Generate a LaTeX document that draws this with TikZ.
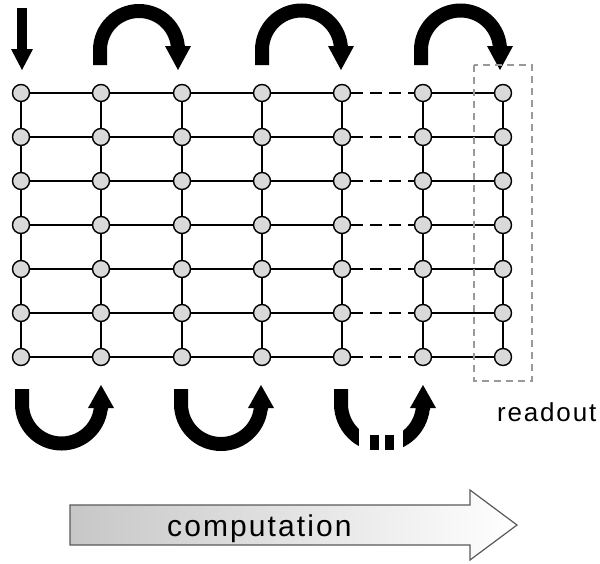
\documentclass[tikz,border=0pt]{standalone}
\usepackage{fontspec}
\setmainfont{Liberation Sans}
\newfontfamily\trackfont[LetterSpace=7]{Liberation Sans}
\begin{document}
\begin{tikzpicture}[x=1pt,y=-1pt,
  dot/.style={circle,draw=black,fill=black!15,line width=1.4pt,minimum size=17pt,inner sep=0pt},
  link/.style={line width=1.3pt},
  gaplink/.style={link,dash pattern=on 12pt off 7pt},
  bigarr/.style={line width=14pt},
  readbox/.style={draw=black!40,line width=1.3pt,dash pattern=on 7pt off 5pt},
  lbl/.style={inner sep=0pt,anchor=base west}]
\useasboundingbox (0,0) rectangle (600,563);
% grid nodes
\foreach \x [count=\i] in {21,101,182,262,342,423,503}
  \foreach \y [count=\j] in {93,137,181,225,269,313,357}
    \node[dot] (n\i-\j) at (\x,\y) {};
% horizontal links
\foreach \j in {1,...,7} {
  \foreach \i/\k in {1/2,2/3,3/4,4/5,6/7}
    \draw[link] (n\i-\j) -- (n\k-\j);
  \draw[gaplink] (n5-\j) -- (n6-\j);
}
% vertical links
\foreach \i in {1,...,7}
  \foreach \j/\k in {1/2,2/3,3/4,4/5,5/6,6/7}
    \draw[link] (n\i-\j) -- (n\i-\k);
% input arrow
\fill (17,8) rectangle (27,50);
\fill (11,49) -- (33,49) -- (22,70) -- cycle;
% top arrows
\foreach \L/\R in {100/178, 262/341, 421/500} {
  \pgfmathsetmacro\M{(\L+\R)/2}
  \pgfmathsetmacro\r{(\R-\L)/2}
  \pgfmathsetmacro\k{0.5523*\r}
  \draw[bigarr] (\L,65) -- (\L,50) .. controls +(0,-\k) and +(-\k,0) .. (\M,{50-\r})
     .. controls +(\k,0) and +(0,-\k) .. (\R,50) -- (\R,48);
  \fill ({\R-13},46) -- ({\R+13},46) -- (\R,70) -- cycle;
}
% bottom arrows
\foreach \L/\R in {22/101, 181/261, 341/423} {
  \pgfmathsetmacro\M{(\L+\R)/2}
  \pgfmathsetmacro\r{(\R-\L)/2}
  \pgfmathsetmacro\k{0.5523*\r}
  \draw[bigarr] (\L,389) -- (\L,404) .. controls +(0,\k) and +(-\k,0) .. (\M,{404+\r})
     .. controls +(\k,0) and +(0,\k) .. (\R,404) -- (\R,410);
  \fill ({\R-13},408) -- ({\R+13},408) -- (\R,385) -- cycle;
}
\fill[white] (359,425) rectangle (403,460);
\fill (370,435) rectangle (379,450);
\fill (385,435) rectangle (394,450);
% readout box
\draw[readbox] (474,65) rectangle (532,381);
\node[lbl,font=\trackfont\fontsize{26}{31}\selectfont] (readout) at (497,421) {readout};
% computation arrow
\shade[left color=black!22,right color=white,draw=black!65,line width=1.2pt]
  (70,505) -- (470,505) -- (470,490) -- (517,525) -- (470,560) -- (470,545) -- (70,545) -- cycle;
\node[lbl,font=\trackfont\fontsize{30}{36}\selectfont] (comp) at (167,536) {comp\kern2ptutation};
\end{tikzpicture}
\end{document}
